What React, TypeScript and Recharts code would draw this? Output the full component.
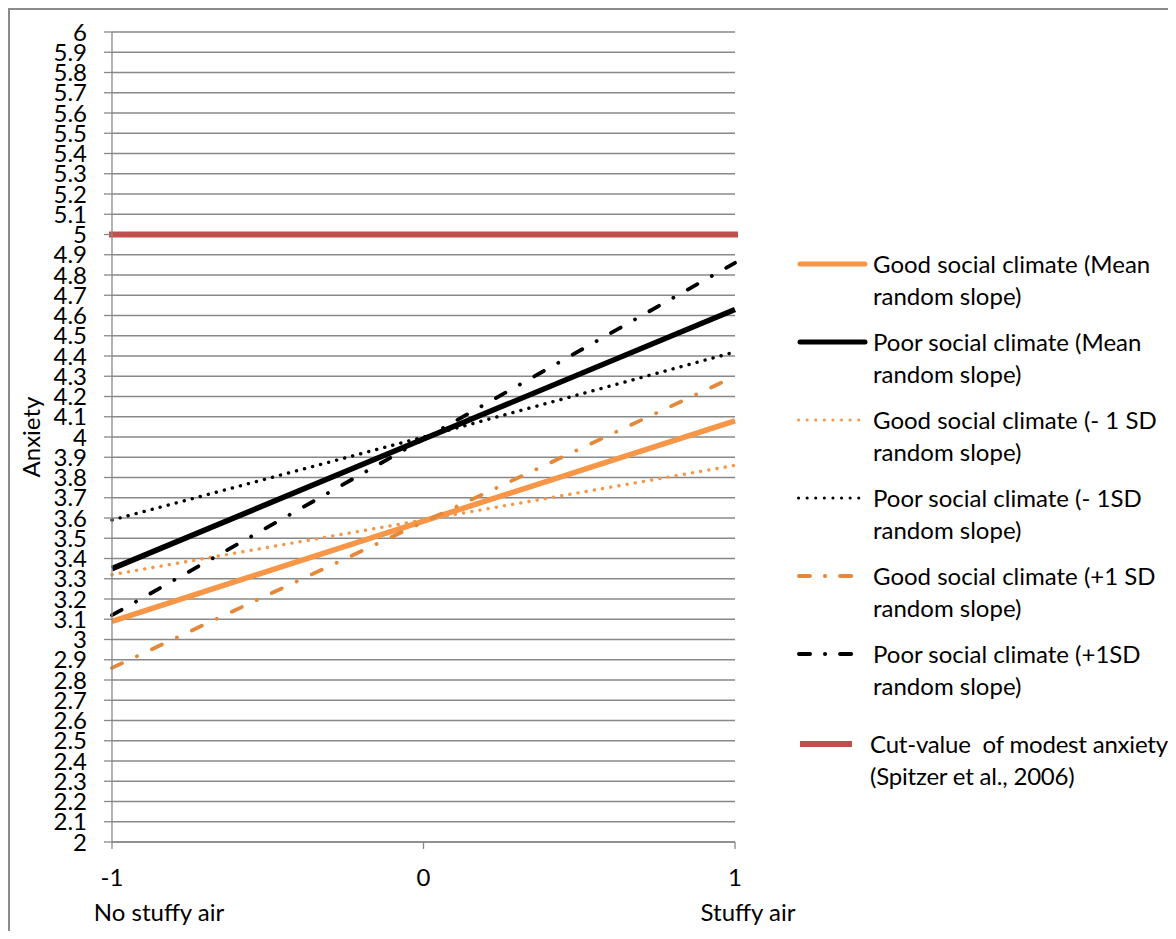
import React from 'react';
import { LineChart, Line, XAxis, YAxis, CartesianGrid, Legend } from 'recharts';

// x positions: -1 = no stuffy air, 1 = stuffy air
const stuffyAir = [-1, 0, 1];

const goodMean = [3.09, 3.585, 4.08];
const poorMean = [3.35, 3.99, 4.63];
const goodMinus1SD = [3.32, 3.59, 3.86];
const poorMinus1SD = [3.59, 4.0, 4.42];
const goodPlus1SD = [2.86, 3.58, 4.3];
const poorPlus1SD = [3.12, 3.99, 4.86];
const cutValue = [5, 5, 5];

const yTicks = [
  2, 2.1, 2.2, 2.3, 2.4, 2.5, 2.6, 2.7, 2.8, 2.9,
  3, 3.1, 3.2, 3.3, 3.4, 3.5, 3.6, 3.7, 3.8, 3.9,
  4, 4.1, 4.2, 4.3, 4.4, 4.5, 4.6, 4.7, 4.8, 4.9,
  5, 5.1, 5.2, 5.3, 5.4, 5.5, 5.6, 5.7, 5.8, 5.9, 6,
];
const xTicks = [-1, 0, 1];
const xSubLabels: Record<string, string> = { '-1': 'No stuffy air', '1': 'Stuffy air' };

const data = stuffyAir.map((x, i) => ({
  x,
  goodMean: goodMean[i],
  poorMean: poorMean[i],
  goodMinus1SD: goodMinus1SD[i],
  poorMinus1SD: poorMinus1SD[i],
  goodPlus1SD: goodPlus1SD[i],
  poorPlus1SD: poorPlus1SD[i],
  cutValue: cutValue[i],
}));

const FONT = 'Lato, "Liberation Sans", sans-serif';
const FONT_SIZE = 24;
const GRID = '#888888';
const ORANGE = '#F79646';
const DARK_ORANGE = '#E3893C';
const RED = '#C0504D';

const DOTS = '0.1 8.2';
const DASH_DOT = '11 16.5 0.1 16.5';

type Series = {
  key: string;
  line1: string;
  line2: string;
  color: string;
  width: number;
  dash?: string;
  cap: 'round' | 'butt' | 'square';
};

const series: Series[] = [
  { key: 'goodMean', line1: 'Good social climate (Mean', line2: 'random slope)', color: ORANGE, width: 5.5, cap: 'butt' },
  { key: 'poorMean', line1: 'Poor social climate (Mean', line2: 'random slope)', color: '#000000', width: 5.5, cap: 'butt' },
  { key: 'goodMinus1SD', line1: 'Good social climate (- 1 SD', line2: 'random slope)', color: ORANGE, width: 3.4, dash: DOTS, cap: 'round' },
  { key: 'poorMinus1SD', line1: 'Poor social climate (- 1SD', line2: 'random slope)', color: '#000000', width: 3.4, dash: DOTS, cap: 'round' },
  { key: 'goodPlus1SD', line1: 'Good social climate (+1 SD', line2: 'random slope)', color: DARK_ORANGE, width: 3.8, dash: DASH_DOT, cap: 'round' },
  { key: 'poorPlus1SD', line1: 'Poor social climate (+1SD', line2: 'random slope)', color: '#000000', width: 3.8, dash: DASH_DOT, cap: 'round' },
  { key: 'cutValue', line1: 'Cut-value  of modest anxiety', line2: '(Spitzer et al., 2006)', color: RED, width: 6, cap: 'square' },
];

function XTick(props: any) {
  const { x, y, payload } = props;
  const sub = xSubLabels[String(payload.value)];
  const dx = payload.value === -1 ? 47 : 13;
  return (
    <g>
      <text x={x} y={y + 36.5} textAnchor="middle" fontSize={FONT_SIZE} fontFamily={FONT} fill="#000">
        {payload.value}
      </text>
      {sub && (
        <text x={x + dx} y={y + 71.5} textAnchor="middle" fontSize={FONT_SIZE} fontFamily={FONT} fill="#000">
          {sub}
        </text>
      )}
    </g>
  );
}

function LegendSample({ s }: { s: Series }) {
  if (s.key === 'cutValue') {
    return <line x1={3} y1={16} x2={55} y2={16} stroke={s.color} strokeWidth={6} />;
  }
  if (s.dash === DASH_DOT) {
    return (
      <line x1={2} y1={16} x2={62} y2={16} stroke={s.color} strokeWidth={4}
        strokeDasharray="11 15 0.1 15" strokeLinecap="round" />
    );
  }
  if (s.dash === DOTS) {
    return (
      <line x1={1.5} y1={16} x2={70} y2={16} stroke={s.color} strokeWidth={3}
        strokeDasharray="0.1 8.5" strokeLinecap="round" />
    );
  }
  return <line x1={3} y1={16} x2={68} y2={16} stroke={s.color} strokeWidth={5} strokeLinecap="round" />;
}

const renderLegend = () => (
  <div style={{ fontFamily: FONT, fontSize: FONT_SIZE, lineHeight: '32px', color: '#000' }}>
    {series.map((s, i) => {
      const last = i === series.length - 1;
      return (
        <div key={s.key} style={{ display: 'flex', marginTop: i === 0 ? 0 : last ? 26 : 14 }}>
          <svg width={last ? 73 : 76} height={32} style={{ flex: 'none', display: 'block' }}>
            <LegendSample s={s} />
          </svg>
          <div style={{ whiteSpace: 'pre', letterSpacing: last ? -0.2 : 0 }}>
            <div>{s.line1}</div>
            <div>{s.line2}</div>
          </div>
        </div>
      );
    })}
  </div>
);

export default function App() {
  return (
    <div
      style={{
        position: 'relative',
        width: 1166,
        height: 921,
        borderLeft: '2px solid #8a8a8a',
        borderTop: '2px solid #8a8a8a',
        background: '#fff',
        fontFamily: FONT,
      }}
    >
      <LineChart
        width={1166}
        height={918}
        data={data}
        margin={{ top: 22, right: 441, bottom: 26, left: 0 }}
      >
        <CartesianGrid vertical={false} stroke={GRID} strokeWidth={1.3} />
        <XAxis
          dataKey="x"
          type="number"
          domain={[-1, 1]}
          ticks={xTicks}
          height={60}
          stroke={GRID}
          strokeWidth={1.3}
          tickSize={7}
          tickMargin={0}
          tick={<XTick />}
          interval={0}
        />
        <YAxis
          type="number"
          domain={[2, 6]}
          ticks={yTicks}
          interval={0}
          width={102}
          stroke={GRID}
          strokeWidth={1.3}
          tickSize={8}
          tickMargin={17}
          tick={{ fill: '#000', fontSize: FONT_SIZE, fontFamily: FONT }}
          tickFormatter={(v: number) => String(v)}
          label={{
            value: 'Anxiety',
            angle: -90,
            position: 'center',
            dx: -30,
            style: { fill: '#000', fontSize: FONT_SIZE, fontFamily: FONT },
          }}
        />
        <Legend
          layout="vertical"
          align="center"
          verticalAlign="middle"
          content={renderLegend}
          wrapperStyle={{ left: 787, top: 238, width: 390, margin: 0 }}
        />
        {series.map((s) => (
          <Line
            key={s.key}
            dataKey={s.key}
            name={`${s.line1} ${s.line2}`}
            type="linear"
            stroke={s.color}
            strokeWidth={s.width}
            strokeDasharray={s.dash}
            strokeLinecap={s.cap}
            dot={false}
            activeDot={false}
            isAnimationActive={false}
          />
        ))}
      </LineChart>
    </div>
  );
}
